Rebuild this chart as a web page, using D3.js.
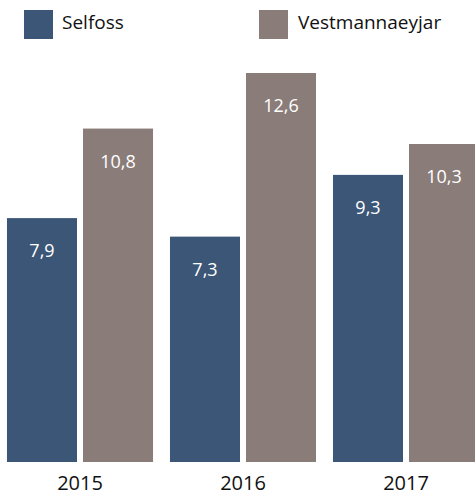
<!DOCTYPE html>
<html>
<head>
<meta charset="utf-8">
<script src="https://cdn.jsdelivr.net/npm/d3@7"></script>
<style>
  body { margin: 0; background: #fff; }
  svg { display: block; font-family: "Open Sans", sans-serif; }
</style>
</head>
<body>
<div id="chart"></div>
<script>
const years = ['2015', '2016', '2017'];
const seriesNames = ['Selfoss', 'Vestmannaeyjar'];
const selfoss = [7.9, 7.3, 9.3];
const vestmannaeyjar = [10.8, 12.6, 10.3];
const colors = ['#3b5676', '#8a7c78'];

const width = 475, height = 495;
const rows = years.map((y, i) => ({year: y, values: [selfoss[i], vestmannaeyjar[i]]}));

const svg = d3.select('#chart').append('svg')
    .attr('width', width)
    .attr('height', height);

const x0 = d3.scaleBand()
    .domain(years)
    .range([-1.5, 487.5])
    .paddingInner(0.104)
    .paddingOuter(0.052);

const x1 = d3.scaleBand()
    .domain(seriesNames)
    .range([0, x0.bandwidth()])
    .paddingInner(0.079);

const y = d3.scaleLinear()
    .domain([0, 12.6])
    .range([462, 73]);

const fmt = v => v.toFixed(1).replace('.', ',');

const groups = svg.selectAll('.group')
    .data(rows)
    .join('g')
    .attr('class', 'group')
    .attr('transform', d => `translate(${x0(d.year)},0)`);

const bars = groups.selectAll('.bar')
    .data(d => d.values.map((v, i) => ({name: seriesNames[i], value: v, i: i})))
    .join('g')
    .attr('class', 'bar');

bars.append('rect')
    .attr('x', d => x1(d.name))
    .attr('y', d => y(d.value))
    .attr('width', x1.bandwidth())
    .attr('height', d => y(0) - y(d.value))
    .attr('fill', d => colors[d.i]);

bars.append('text')
    .attr('x', d => x1(d.name) + x1.bandwidth() / 2)
    .attr('y', d => y(d.value) + 39)
    .attr('text-anchor', 'middle')
    .attr('fill', '#fff')
    .style('font-size', '18px')
    .text(d => fmt(d.value));

// year labels
svg.selectAll('.yearLabel')
    .data(years)
    .join('text')
    .attr('class', 'yearLabel')
    .attr('x', d => x0(d) + x0.bandwidth() / 2)
    .attr('y', 490)
    .attr('text-anchor', 'middle')
    .attr('fill', '#111')
    .style('font-size', '20px')
    .text(d => d);

// legend
const legendX = [24, 259];
const legend = svg.selectAll('.legend')
    .data(seriesNames)
    .join('g')
    .attr('class', 'legend')
    .attr('transform', (d, i) => `translate(${legendX[i]},10)`);

legend.append('rect')
    .attr('width', 29)
    .attr('height', 29)
    .attr('fill', (d, i) => colors[i]);

legend.append('text')
    .attr('x', (d, i) => i === 0 ? 38 : 39)
    .attr('y', 19)
    .attr('fill', '#111')
    .style('font-size', '19px')
    .text(d => d);
</script>
</body>
</html>
